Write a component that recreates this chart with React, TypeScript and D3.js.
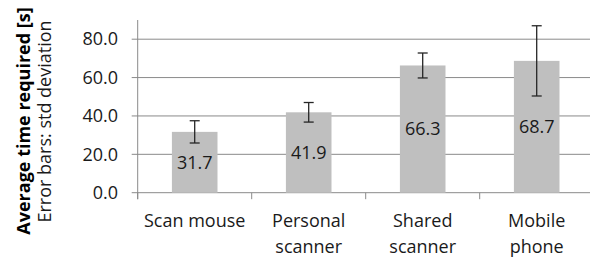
import React from "react";
import * as d3 from "d3";

const width = 590;
const height = 257;

const categories = ["Scan mouse", "Personal scanner", "Shared scanner", "Mobile phone"];
const catLines = [["Scan mouse"], ["Personal", "scanner"], ["Shared", "scanner"], ["Mobile", "phone"]];
const means = [31.7, 41.9, 66.3, 68.7];
const stdDev = [5.8, 5.1, 6.5, 18.3];
const yTicks = [0, 20, 40, 60, 80];

const font = "'Open Sans', sans-serif";
const margin = { top: 20, left: 137.7, bottom: 64.3 };

const App = () => {
  const x = d3
    .scaleBand<string>()
    .domain(categories)
    .range([margin.left, margin.left + 456])
    .paddingInner(0.6)
    .paddingOuter(0.3);
  const y = d3
    .scaleLinear()
    .domain([0, 90])
    .range([height - margin.bottom, margin.top]);
  const fmt = d3.format(".1f");
  const step = x.step();
  const y0 = y(0);

  return (
    <svg
      width={width}
      height={height}
      style={{ position: "absolute", left: 0, top: 0, background: "#fff" }}
      fontFamily={font}
    >
      {/* gridlines */}
      {yTicks.map((t) => (
        <g key={t}>
          <line x1={margin.left - 6} x2={width} y1={y(t)} y2={y(t)} stroke="#8a8a8a" strokeWidth={1} />
          <text x={118} y={y(t)} dy="0.35em" textAnchor="end" fontSize={18} fill="#1a1a1a">
            {fmt(t)}
          </text>
        </g>
      ))}
      {/* y axis */}
      <line x1={margin.left} x2={margin.left} y1={y(90)} y2={y0 + 6.5} stroke="#8a8a8a" />
      {/* category ticks */}
      {categories.map((c, i) => (
        <line key={c} x1={margin.left + step * i} x2={margin.left + step * i} y1={y0} y2={y0 + 6.5} stroke="#8a8a8a" />
      ))}
      {/* bars */}
      {categories.map((c, i) => (
        <rect key={c} x={x(c)} y={y(means[i])} width={x.bandwidth()} height={y0 - y(means[i])} fill="#bfbfbf" />
      ))}
      {/* error bars */}
      {categories.map((c, i) => {
        const cx = (x(c) as number) + x.bandwidth() / 2;
        const hi = y(means[i] + stdDev[i]);
        const lo = y(means[i] - stdDev[i]);
        return (
          <g key={c} stroke="#262626" strokeWidth={1.3}>
            <line x1={cx} x2={cx} y1={hi} y2={lo} />
            <line x1={cx - 5} x2={cx + 5} y1={hi} y2={hi} />
            <line x1={cx - 5} x2={cx + 5} y1={lo} y2={lo} />
          </g>
        );
      })}
      {/* value labels */}
      {categories.map((c, i) => (
        <text
          key={c}
          x={(x(c) as number) + x.bandwidth() / 2}
          y={(y(means[i]) + y0) / 2}
          dy="0.35em"
          textAnchor="middle"
          fontSize={18}
          fill="#1a1a1a"
        >
          {fmt(means[i])}
        </text>
      ))}
      {/* category labels */}
      {categories.map((c, i) => (
        <text
          key={c}
          x={(x(c) as number) + x.bandwidth() / 2}
          y={221}
          dy="0.35em"
          textAnchor="middle"
          fontSize={18}
          fill="#1a1a1a"
        >
          {catLines[i].map((l, j) => (
            <tspan key={j} x={(x(c) as number) + x.bandwidth() / 2} dy={j === 0 ? "0.35em" : 26}>
              {l}
            </tspan>
          ))}
        </text>
      ))}
      {/* axis title */}
      <text transform={`translate(23.5,121) rotate(-90)`} textAnchor="middle" dy="0.35em" fontSize={18} fontWeight="bold" fill="#000">
        Average time required [s]
      </text>
      <text transform={`translate(45,121.5) rotate(-90)`} textAnchor="middle" dy="0.35em" fontSize={18} fill="#1a1a1a">
        Error bars: std deviation
      </text>
    </svg>
  );
};

export default App;
